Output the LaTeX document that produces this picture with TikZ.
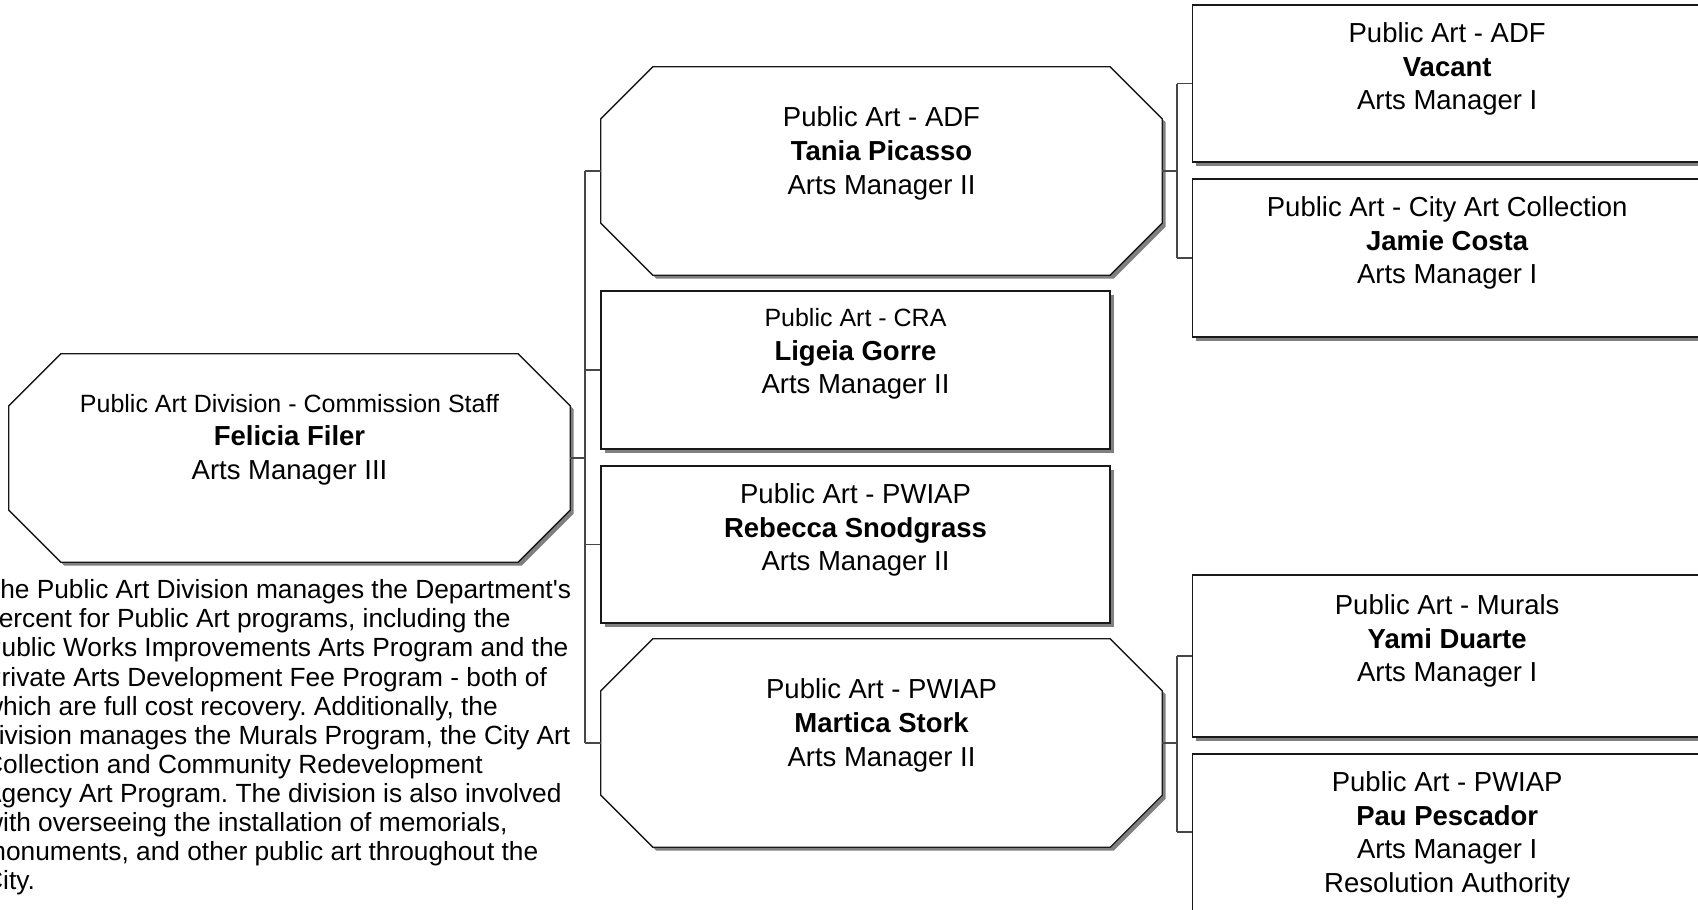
\documentclass[tikz,border=0pt]{standalone}
\usepackage{fontspec}
\setmainfont{Liberation Sans}[Ligatures=TeXOff]
\usetikzlibrary{shadows,calc}
\tikzset{
  shade3/.style={drop shadow={shadow xshift=3.5pt,shadow yshift=-3.5pt,fill=black!50,opacity=1}},
  octnode/.style={minimum width=561pt,minimum height=208pt,inner sep=0pt,draw=none},
  octline/.style={draw=black!90,line width=1.3pt,fill=white,shade3},
  rectbox/.style={draw=black!90,line width=1.3pt,fill=white,shade3,inner sep=0pt,minimum width=509pt},
  conn/.style={draw=black!72,line width=1.4pt},
  txt/.style={align=center,anchor=north,inner sep=0pt,font=\fontsize{27.5pt}{33.6pt}\selectfont},
  desc/.style={align=left,anchor=north west,inner sep=0pt,font=\fontsize{26.3pt}{29.1pt}\selectfont}
}
\newcommand{\octdraw}[1]{%
  \path[octline] ([xshift=52pt]#1.north west) -- ([xshift=-52pt]#1.north east)
    -- ([yshift=-52pt]#1.north east) -- ([yshift=52pt]#1.south east)
    -- ([xshift=-52pt]#1.south east) -- ([xshift=52pt]#1.south west)
    -- ([yshift=52pt]#1.south west) -- ([yshift=-52pt]#1.north west) -- cycle;}
\newcommand{\sm}[1]{{\fontsize{25pt}{33.6pt}\selectfont #1}}
\frenchspacing
\begin{document}
\begin{tikzpicture}[x=1pt,y=-1pt]
\useasboundingbox (0,0) rectangle (1698,910);
\fill[white] (0,0) rectangle (1698,910);

% placeholder nodes
\node[octnode] (root) at (289.5,458) {};
\node[octnode] (c1) at (881.5,171) {};
\node[rectbox,minimum height=158pt] (c2) at (855.5,370) {};
\node[rectbox,minimum height=157pt] (c3) at (855.5,544.5) {};
\node[octnode] (c4) at (881.5,743) {};
\node[rectbox,minimum height=157pt] (g1) at (1447.2,83.5) {};
\node[rectbox,minimum height=158pt] (g2) at (1447.2,258) {};
\node[rectbox,minimum height=162pt] (g3) at (1447.2,656) {};
\node[rectbox,minimum height=172pt] (g4) at (1447.2,840) {};

\octdraw{root}
\octdraw{c1}
\octdraw{c4}

% connectors
\coordinate (bus) at (585,458);
\draw[conn] (root.east) -- (root.east -| bus);
\draw[conn] (c1.west -| bus) -- (c4.west -| bus);
\foreach \n in {c1,c2,c3,c4} \draw[conn] (\n.west -| bus) -- (\n.west);
\coordinate (gbusA) at (1177,171);
\draw[conn] (c1.east) -- (c1.east -| gbusA);
\draw[conn] (g1.west -| gbusA) -- (g2.west -| gbusA);
\foreach \n in {g1,g2} \draw[conn] (\n.west -| gbusA) -- (\n.west);
\coordinate (gbusB) at (1177,743);
\coordinate (g4in) at ([yshift=8pt]g4.west);
\draw[conn] (c4.east) -- (c4.east -| gbusB);
\draw[conn] (g3.west -| gbusB) -- (g4in -| gbusB);
\draw[conn] (g3.west -| gbusB) -- (g3.west);
\draw[conn] (g4in -| gbusB) -- (g4in);

% texts
\node[txt] (rootT) at ([yshift=-40pt]root.north) {\sm{Public Art Division - Commission Staff}\\\textbf{Felicia Filer}\\Arts Manager III};
\node[txt] (c1T) at ([yshift=-40pt]c1.north) {Public Art - ADF\\\textbf{Tania Picasso}\\Arts Manager II};
\node[txt] (c2T) at ([yshift=-18pt]c2.north) {\sm{Public Art - CRA}\\\textbf{Ligeia Gorre}\\Arts Manager II};
\node[txt] (c3T) at ([yshift=-18pt]c3.north) {Public Art - PWIAP\\\textbf{Rebecca Snodgrass}\\Arts Manager II};
\node[txt] (c4T) at ([yshift=-40pt]c4.north) {Public Art - PWIAP\\\textbf{Martica Stork}\\Arts Manager II};
\node[txt] (g1T) at ([yshift=-18pt]g1.north) {Public Art - ADF\\\textbf{Vacant}\\Arts Manager I};
\node[txt] (g2T) at ([yshift=-18pt]g2.north) {Public Art - City Art Collection\\\textbf{Jamie Costa}\\Arts Manager I};
\node[txt] (g3T) at ([yshift=-20pt]g3.north) {Public Art - Murals\\\textbf{Yami Duarte}\\Arts Manager I};
\node[txt] (g4T) at ([yshift=-18pt]g4.north) {Public Art - PWIAP\\\textbf{Pau Pescador}\\Arts Manager I\\Resolution Authority};

\node[desc] (note) at (-16,579.5) {The Public Art Division manages the Department's\\
percent for Public Art programs, including the\\
Public Works Improvements Arts Program and the\\
Private Arts Development Fee Program - both of\\
which are full cost recovery. Additionally, the\\
division manages the Murals Program, the City Art\\
Collection and Community Redevelopment\\
Agency Art Program. The division is also involved\\
with overseeing the installation of memorials,\\
monuments, and other public art throughout the\\
City.};
\end{tikzpicture}
\end{document}
